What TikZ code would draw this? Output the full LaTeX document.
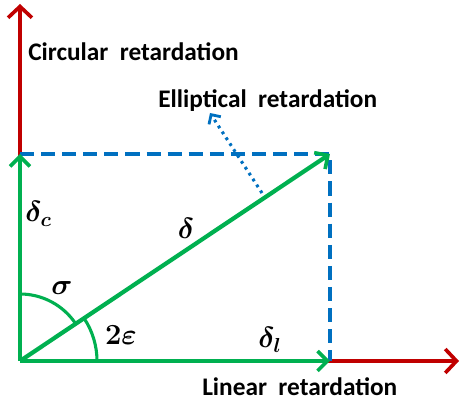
\documentclass[tikz,border=0pt]{standalone}
\usepackage{amsmath}
\usepackage[no-math]{fontspec}
\setmainfont{Carlito}
\usetikzlibrary{arrows.meta,calc}
\definecolor{axisred}{RGB}{192,0,0}
\definecolor{vecgreen}{RGB}{0,176,80}
\definecolor{boxblue}{RGB}{0,112,192}

\begin{document}
\begin{tikzpicture}[x=0.025cm, y=0.025cm,
  axisline/.style={draw=axisred, line width=2.6pt, -{Straight Barb[length=8pt, width=17pt, line width=2.6pt]}},
  vecline/.style={draw=vecgreen, line width=3pt, -{Straight Barb[length=7pt, width=14pt, line width=2.6pt]}},
  boxline/.style={draw=boxblue, line width=2.8pt, dash pattern=on 10pt off 5pt},
  pointline/.style={draw=boxblue, line width=2.2pt, dash pattern=on 2pt off 3pt, -{Straight Barb[length=5pt, width=10pt, line width=2pt]}},
  arcline/.style={draw=vecgreen, line width=2.2pt},
  axislabel/.style={anchor=west, inner sep=0pt, font=\fontsize{18}{21}\selectfont\bfseries},
  symlabel/.style={inner sep=0pt, font=\fontsize{21}{24}\selectfont}]
  \useasboundingbox (0,0) rectangle (463,405);
  % axes
  \coordinate (O) at (20,44);
  \coordinate (xend) at (459,44);
  \coordinate (yend) at (20,401);
  \draw[axisline] (O) -- (xend);
  \draw[axisline] (O) -- (yend);
  % components and total retardation
  \coordinate (L) at (330,44);
  \coordinate (C) at (20,251);
  \coordinate (E) at (330,251);
  \draw[boxline] (C) -- (E) -- (L);
  \draw[vecline] (O) -- (L);
  \draw[vecline] (O) -- (C);
  \draw[vecline] (O) -- (E);
  % angles
  \draw[arcline] ($(O)+(90:67)$) arc[start angle=90, end angle=33.7, radius=67];
  \draw[arcline] ($(O)+(0:77)$) arc[start angle=0, end angle=33.7, radius=77];
  % elliptical pointer
  \coordinate (foot) at (262,212);
  \coordinate (tip) at (210,292);
  \draw[pointline] (foot) -- (tip);
  % labels
  \node[axislabel] (circ) at (28,353) {Circular\ \ retardation};
  \node[axislabel] (ellip) at (158,304) {Elliptical\ \ retardation};
  \node[axislabel] (lin) at (202,18) {Linear\ \ retardation};
  \node[symlabel, anchor=west] (dc) at (25,191) {$\boldsymbol{\delta_c}$};
  \node[symlabel] (dd) at (186,177) {$\boldsymbol{\delta}$};
  \node[symlabel] (sg) at (62,117) {$\boldsymbol{\sigma}$};
  \node[symlabel] (ep) at (121,70) {$\boldsymbol{2\varepsilon}$};
  \node[symlabel] (dl) at (270,65) {$\boldsymbol{\delta_l}$};
\end{tikzpicture}
\end{document}
